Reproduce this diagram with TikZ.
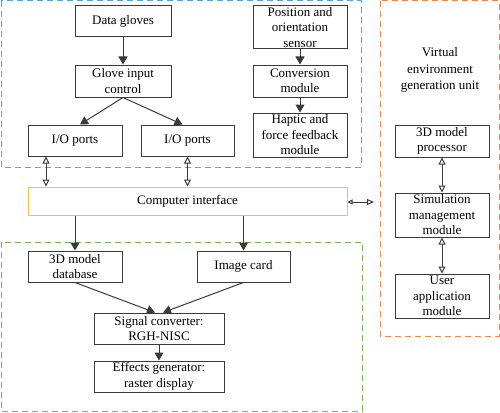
\documentclass[tikz,border=0pt]{standalone}
\usepackage{fontspec}
\setmainfont{Liberation Serif}
\usetikzlibrary{arrows.meta,calc}
\definecolor{bluedash}{HTML}{5AA2E0}
\definecolor{greendash}{HTML}{7CB550}
\definecolor{orangedash}{HTML}{EE8A50}
\definecolor{ciborder}{HTML}{F2C24A}
\definecolor{linegray}{HTML}{3A3A3A}
\tikzset{
  box/.style={draw=linegray, line width=1pt, fill=white, align=center, inner sep=0pt,
    font=\fontsize{13}{15.5}\selectfont},
  lbl/.style={align=center, inner sep=0pt, font=\fontsize{13}{16.5}\selectfont},
  region/.style={line width=1pt, dash pattern=on 6pt off 4pt},
  solidarr/.style={draw=linegray, line width=1pt, -{Triangle[width=9pt,length=8pt]}},
  openarr/.style={draw=linegray, line width=1pt, {Triangle[open,width=7pt,length=7pt]}-{Triangle[open,width=7pt,length=7pt]}},
  smallarr/.style={draw=linegray, line width=1pt, {Triangle[open,width=5pt,length=5pt]}-{Triangle[open,width=6pt,length=7pt]}}
}
\begin{document}
\begin{tikzpicture}[x=1pt,y=-1pt]
\useasboundingbox (0,0) rectangle (500,412);
% regions
\draw[region, draw=bluedash] (1,1) rectangle (361,167);
\draw[region, draw=greendash] (1,242) rectangle (362,411);
\draw[region, draw=orangedash] (380,1) rectangle (499,336);
% left top
\node[box, minimum width=96pt, minimum height=31pt] (dg) at (123,21.5) {Data gloves};
\node[box, minimum width=96pt, minimum height=32pt] (gic) at (123,81) {Glove input\\control};
\node[box, minimum width=94pt, minimum height=31pt] (io1) at (75,140.5) {I/O ports};
\node[box, minimum width=93pt, minimum height=31pt] (io2) at (187.5,140.5) {I/O ports};
% right top
\node[box, minimum width=94pt, minimum height=43pt] (pos) at (300,27.5) {Position and\\orientation\\sensor};
\node[box, minimum width=94pt, minimum height=32pt] (conv) at (300,81) {Conversion\\module};
\node[box, minimum width=94pt, minimum height=44pt] (hap) at (300,135) {Haptic and\\force feedback\\module};
% interface
\node[box, draw=ciborder, minimum width=319pt, minimum height=28pt] (ci) at (187.5,201) {Computer interface};
% bottom
\node[box, minimum width=94pt, minimum height=31pt] (db) at (75,266.5) {3D model\\database};
\node[box, minimum width=93pt, minimum height=31pt] (ic) at (243.5,266.5) {Image card};
\node[box, minimum width=130pt, minimum height=31pt] (sc) at (159,328.5) {Signal converter:\\RGH-NISC};
\node[box, minimum width=130pt, minimum height=31pt] (eg) at (159,376.5) {Effects generator:\\raster display};
% virtual environment
\node[lbl] (vet) at (440,70) {Virtual\\environment\\generation unit};
\node[box, minimum width=94pt, minimum height=32pt] (mp) at (442,141) {3D model\\processor};
\node[box, minimum width=94pt, minimum height=44pt] (sm) at (442,215) {Simulation\\management\\module};
\node[box, minimum width=94pt, minimum height=44pt] (ua) at (442,296) {User\\application\\module};
% coordinates
\coordinate (x46) at (46,0);
\coordinate (veend) at (374,202);
% connectors
\draw[solidarr] (dg) -- (gic);
\draw[solidarr] (gic.south) -- ([xshift=5pt]io1.north);
\draw[solidarr] (gic.south) -- ([xshift=-5pt]io2.north);
\draw[solidarr] (pos) -- (conv);
\draw[solidarr] (conv) -- (hap);
\draw[openarr] (io1.south -| x46) -- (ci.north -| x46);
\draw[openarr] (io2.south) -- (ci.north -| io2.south);
\draw[smallarr] (ci.east |- veend) -- (veend);
\draw[solidarr] (ci.south -| db.north) -- (db.north);
\draw[solidarr] (ci.south -| ic.north) -- (ic.north);
\draw[solidarr] (db.south) -- ([xshift=-4pt]sc.north);
\draw[solidarr] (ic.south) -- ([xshift=4pt]sc.north);
\draw[solidarr] (sc) -- (eg);
\draw[openarr] (mp) -- (sm);
\draw[openarr] (sm) -- (ua);
\end{tikzpicture}
\end{document}
